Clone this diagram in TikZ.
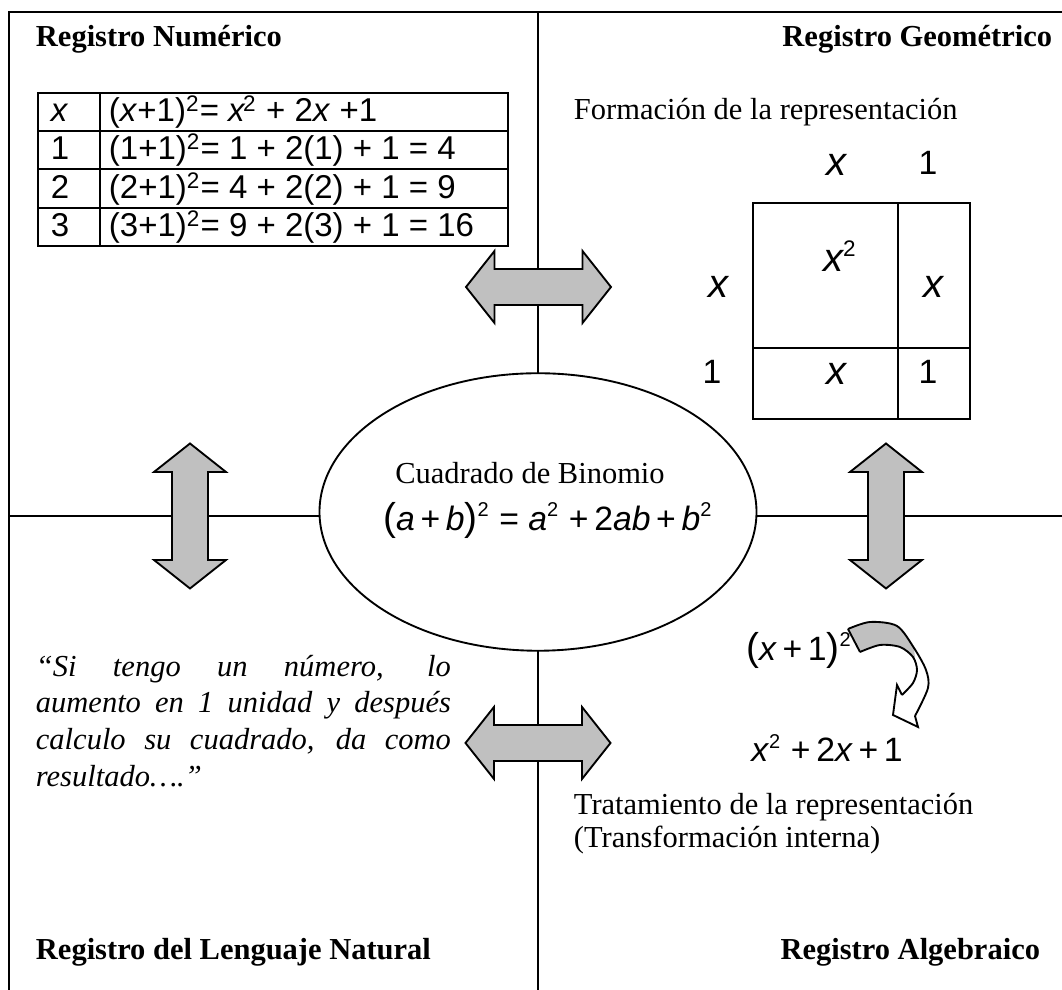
\documentclass[tikz,border=0pt]{standalone}
\usepackage{fontspec}
\setmainfont{Liberation Serif}
\newfontfamily\arial{Liberation Sans}
\usetikzlibrary{shapes.geometric}
\definecolor{agray}{HTML}{C0C0C0}
\newcommand\sqr{\textsuperscript{\fontsize{8}{8}\selectfont 2}}
\newcommand\tsq{\textsuperscript{\fontsize{9}{9}\selectfont 2}}
\newcommand\bigpar[1]{{\fontsize{15.5}{16}\selectfont #1}}
\begin{document}
\begin{tikzpicture}[x=0.4pt,y=-0.4pt,line width=0.75pt,
  hdr/.style={font=\fontsize{12.2}{14}\selectfont\bfseries,inner sep=0pt},
  txt/.style={font=\fontsize{12.2}{14}\selectfont,inner sep=0pt},
  tab/.style={font=\arial\fontsize{13.2}{15}\selectfont,inner sep=0pt},
  geo/.style={font=\arial\fontsize{13.5}{15}\selectfont,inner sep=0pt},
  geox/.style={font=\arial\fontsize{16}{18}\selectfont\itshape,inner sep=0pt},
  alg/.style={font=\arial\fontsize{13.5}{16}\selectfont,inner sep=0pt},
  bigarrow/.style={draw,fill=agray,line width=0.75pt,line join=miter},
  dblarrow/.pic={\draw[bigarrow] (-72.5,0) -- (-44,-36) -- (-44,-18) -- (44,-18) -- (44,-36) -- (72.5,0) -- (44,36) -- (44,18) -- (-44,18) -- (-44,36) -- cycle;}]
\useasboundingbox (0,0) rectangle (1062,990);
% frame
\coordinate (tl) at (9,12);
\coordinate (tr) at (1062,12);
\coordinate (bl) at (9,990);
\coordinate (tm) at (538,12);
\coordinate (bm) at (538,990);
\coordinate (ml) at (9,516);
\coordinate (mr) at (1062,516);
\draw (bl) -- (tl) -- (tr);
\draw (tm) -- (bm);
\draw (ml) -- (mr);
% headers
\node[hdr,anchor=base west] (rn) at (35,47) {Registro Numérico};
\node[hdr,anchor=base east] (rg) at (1053,47) {Registro Geométrico};
\node[hdr,anchor=base west] (rl) at (35,960) {Registro del Lenguaje Natural};
\node[hdr,anchor=base east] (ra) at (1041,960) {Registro Algebraico};
% table
\draw (38,93) rectangle (508,246);
\draw (38,131) -- (508,131);
\draw (38,169) -- (508,169);
\draw (38,208) -- (508,208);
\draw (100,93) -- (100,246);
\node[tab,anchor=base west] (c00) at (50,122) {\textit{x}};
\node[tab,anchor=base west] (c01) at (108,122) {(\textit{x}+1)\tsq= \textit{x}\kern-1pt\tsq\ + 2\textit{x} +1};
\node[tab,anchor=base west] (c10) at (50,160) {1};
\node[tab,anchor=base west] (c11) at (108,160) {(1+1)\tsq= 1 + 2(1) + 1 = 4};
\node[tab,anchor=base west] (c20) at (50,199) {2};
\node[tab,anchor=base west] (c21) at (108,199) {(2+1)\tsq= 4 + 2(2) + 1 = 9};
\node[tab,anchor=base west] (c30) at (50,237) {3};
\node[tab,anchor=base west] (c31) at (108,237) {(3+1)\tsq= 9 + 2(3) + 1 = 16};
% geometric
\node[txt,anchor=base west] (form) at (573,120) {Formación de la representación};
\draw (753,203) rectangle (970,419);
\draw (898,203) -- (898,419);
\draw (753,348) -- (970,348);
\node[geox] (gx1) at (836,165) {x};
\node[geo] (g11) at (928,163) {1};
\node[geox] (gx2) at (718,287) {x};
\node[geo] (g12) at (712,372) {1};
\node[geox,anchor=base] (gxx) at (840,272) {x\textsuperscript{\upshape\fontsize{9}{9}\selectfont 2}};
\node[geox] (gx3) at (933,287) {x};
\node[geox] (gx4) at (836,374) {x};
\node[geo] (g13) at (928,372) {1};
% ellipse
\node[ellipse,draw,fill=white,minimum width=174.8pt,minimum height=111pt,inner sep=0pt] (ell) at (538,512) {};
\node[txt] (cb) at (530,473) {Cuadrado de Binomio};
\node[alg] (fb) at (548,520) {\bigpar{(}\textit{a}\,+\,\textit{b}\bigpar{)}\sqr\ = \textit{a}\sqr\ +\,2\textit{ab}\,+\,\textit{b}\sqr};
% double arrows
\pic (a1) at (538.5,287) {dblarrow};
\pic (a2) at (538,743) {dblarrow};
\pic[rotate=90] (a3) at (190,516) {dblarrow};
\pic[rotate=90] (a4) at (886,516) {dblarrow};
% natural language
\node[txt,anchor=north west,text width=166pt,align=justify,font=\fontsize{12.2}{14.7}\selectfont\itshape] (quote) at (35,654)
 {“Si tengo un número, lo\linebreak aumento en 1 unidad y después\linebreak calculo su cuadrado, da como\linebreak resultado….”};
% algebraic
\node[alg] (xp1) at (799,650) {\bigpar{(}\textit{x}\,+\,1\bigpar{)}\sqr};
\node[alg] (exp) at (827,748) {\textit{x}\sqr\ +\,2\textit{x}\,+\,1};
\fill[agray] plot[smooth] coordinates {(848,629) (870,622) (897,626) (914,648)} -- (915,658) -- plot[smooth] coordinates {(900,647) (880,645) (860,652)} -- cycle;
\draw plot[smooth] coordinates {(848,629) (870,622) (897,626) (914,648) (926,670) (928,688) (915,716)};
\draw plot[smooth] coordinates {(860,652) (880,645) (900,647) (913,657) (917,670) (913,683) (902,695)};
\draw (848,629) -- (860,652);
\draw[line join=miter] (902,695) -- (897,685) -- (893,715) -- (918,727) -- (915,716);
\node[txt,anchor=base west] (trat) at (573,815) {Tratamiento de la representación};
\node[txt,anchor=base west] (trans) at (573,848) {(Transformación interna)};
\end{tikzpicture}
\end{document}
